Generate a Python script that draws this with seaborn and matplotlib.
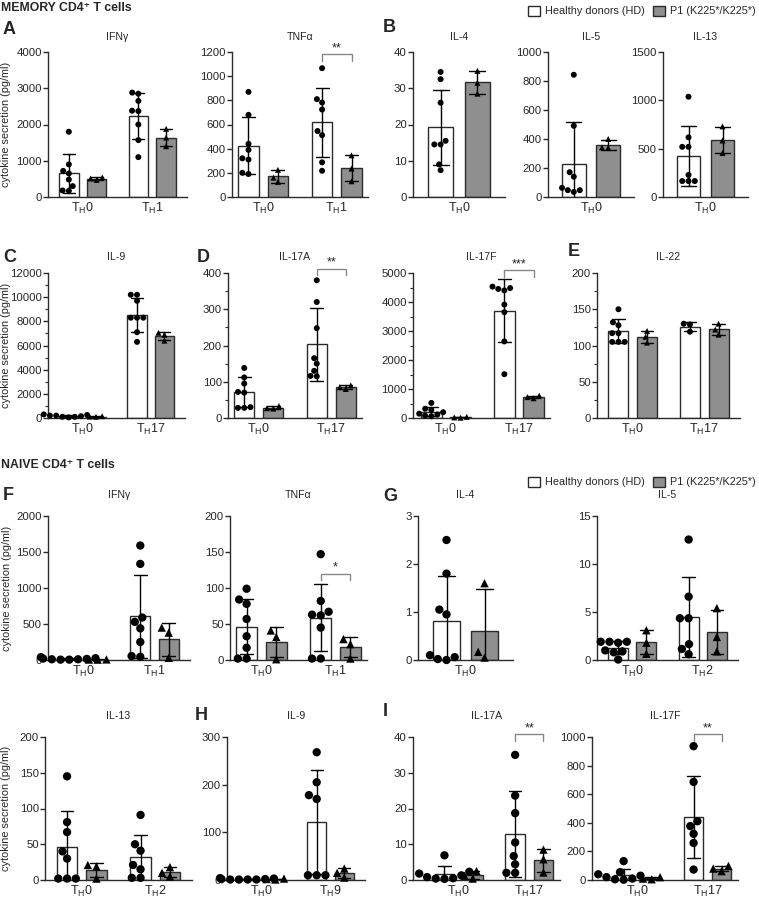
import warnings
import pandas as pd
import seaborn as sns
import matplotlib.pyplot as plt
from matplotlib import font_manager
from matplotlib.ticker import MultipleLocator
from matplotlib.patches import Patch

warnings.filterwarnings('ignore')

# group labels
TH0 = r'T$_\mathregular{H}$0'
TH1 = r'T$_\mathregular{H}$1'
TH2 = r'T$_\mathregular{H}$2'
TH9 = r'T$_\mathregular{H}$9'
TH17 = r'T$_\mathregular{H}$17'

# MEMORY CD4+ T cells: one list per stimulation, healthy donors (hd) and patient (p1)
mem_ifng_hd = [[1800, 900, 720, 650, 480, 300, 180, 170], [2880, 2850, 2650, 2380, 2370, 2000, 1570, 1100]]
mem_ifng_p1 = [[540, 510, 470], [1880, 1640, 1400]]
mem_tnfa_hd = [[870, 680, 440, 390, 320, 310, 200, 190], [1066, 810, 782, 724, 546, 512, 287, 217]]
mem_tnfa_p1 = [[225, 160, 125], [345, 235, 130]]
mem_il4_hd = [[34.5, 32.5, 26, 15.5, 14.5, 14.5, 9, 7.4]]
mem_il4_p1 = [[34.8, 31.5, 28.5]]
mem_il5_hd = [[843, 491, 171, 140, 63, 47, 47, 35]]
mem_il5_p1 = [[400, 340, 342]]
mem_il13_hd = [[1037, 617, 519, 519, 228, 165, 165, 165]]
mem_il13_p1 = [[730, 585, 455]]
mem_il9_hd = [[300, 250, 200, 200, 150, 100, 100, 50], [10200, 10200, 9700, 8300, 8300, 8300, 7100, 6300]]
mem_il9_p1 = [[150, 120, 100], [7050, 6900, 6400]]
mem_il17a_hd = [[138, 112, 95, 72, 70, 30, 28, 28], [380, 320, 248, 165, 150, 130, 115, 116]]
mem_il17a_p1 = [[33, 27, 26], [90, 85, 80]]
mem_il17f_hd = [[520, 320, 280, 200, 150, 120, 80, 60], [4530, 4480, 4450, 4400, 3910, 3650, 2640, 1510]]
mem_il17f_p1 = [[40, 20, 10], [770, 720, 680]]
mem_il22_hd = [[150, 132, 128, 117, 117, 105, 105, 105], [130, 129, 119]]
mem_il22_p1 = [[120, 112, 104], [130, 122, 115]]

# NAIVE CD4+ T cells
nai_ifng_hd = [[40, 25, 20, 15, 10, 10, 5, 5], [1590, 1335, 590, 530, 440, 250, 55, 45]]
nai_ifng_p1 = [[8, 6, 5], [450, 380, 30]]
nai_tnfa_hd = [[99, 84, 78, 57, 33, 17, 2, 2], [147, 82, 67, 63, 62, 45, 2, 2]]
nai_tnfa_p1 = [[41, 32, 1], [29, 22, 2]]
nai_il4_hd = [[2.5, 1.8, 1.05, 0.95, 0.1, 0.06, 0.02, 0.0]]
nai_il4_p1 = [[1.6, 0.17, 0.05]]
nai_il5_hd = [[1.9, 1.9, 1.9, 1.8, 1.0, 0.9, 0.8, 0.05], [12.55, 6.6, 4.35, 4.35, 1.65, 1.15, 0.6]]
nai_il5_p1 = [[3.1, 1.8, 0.65], [5.4, 2.4, 0.9]]
nai_il13_hd = [[145, 81, 67, 40, 30, 2, 2, 2], [91, 50, 41, 21, 15, 3, 3]]
nai_il13_p1 = [[21, 19, 2], [18, 10, 5]]
nai_il9_hd = [[4, 3, 2, 2, 1, 1, 1, 1], [268, 205, 178, 170, 10, 10, 10]]
nai_il9_p1 = [[3, 2, 1], [24, 15, 5]]
nai_il17a_hd = [[6.9, 2.3, 1.8, 1.3, 0.8, 0.5, 0.4, 0.3], [35, 23.6, 18.7, 10.5, 6.7, 4.4, 2, 2]]
nai_il17a_p1 = [[2.5, 1.2, 0.4], [8.5, 5.8, 2.1]]
nai_il17f_hd = [[132, 55, 40, 30, 20, 10, 5, 2], [936, 686, 411, 377, 323, 259, 73]]
nai_il17f_p1 = [[20, 10, 5], [98, 80, 62]]

GREY = '#8f8f8f'
EDGE = '#2b2b2b'
W, H = 759, 900

sns.set_style('ticks')
plt.rcParams['font.family'] = ['Liberation Sans', 'DejaVu Sans']
plt.rcParams['axes.edgecolor'] = EDGE
plt.rcParams['axes.linewidth'] = 1.0

# the legend of the original is set in a condensed face
installed = {f.name for f in font_manager.fontManager.ttflist}
NARROW = 'Liberation Sans Narrow' if 'Liberation Sans Narrow' in installed else 'Liberation Sans'
LEGEND_SIZE = 9.5 if NARROW != 'Liberation Sans' else 7.8


def box(x0, x1, ytop, ybot):
    return [x0 / W, 1 - ybot / H, (x1 - x0) / W, (ybot - ytop) / H]


def draw_panel(fig, rect, title, groups, hd, p1, ymax, ystep, minor=None,
               ylabel=False, dot=4.3, pad=9, sig=None):
    ax = fig.add_axes(rect)
    rows = []
    for g, hv, pv in zip(groups, hd, p1):
        rows += [(g, 'HD', v) for v in hv]
        rows += [(g, 'P1', v) for v in pv]
    df = pd.DataFrame(rows, columns=['stim', 'donor', 'value'])

    sns.barplot(data=df, x='stim', y='value', hue='donor', order=groups,
                hue_order=['HD', 'P1'], palette={'HD': 'white', 'P1': GREY},
                edgecolor=EDGE, linewidth=1, errorbar='sd', capsize=0.35,
                err_kws={'color': 'black', 'linewidth': 1}, gap=0.3,
                legend=False, ax=ax)
    for donor, marker in [('HD', 'o'), ('P1', '^')]:
        sns.swarmplot(data=df[df['donor'] == donor], x='stim', y='value',
                      hue='donor', order=groups, hue_order=['HD', 'P1'],
                      palette={'HD': 'black', 'P1': 'black'}, dodge=True,
                      marker=marker, size=dot, legend=False, ax=ax)
    for c in ax.collections:
        c.set_clip_on(False)

    ax.set_ylim(0, ymax)
    ax.yaxis.set_major_locator(MultipleLocator(ystep))
    if minor:
        ax.yaxis.set_minor_locator(MultipleLocator(minor))
    ax.tick_params(axis='y', labelsize=8.2, length=3.5, width=1, color=EDGE, pad=1)
    ax.tick_params(axis='y', which='minor', length=2, width=0.8, color=EDGE)
    ax.tick_params(axis='x', labelsize=9, length=0, pad=3)
    ax.set_xlabel('')
    ax.set_ylabel('')
    ax.set_title(title, fontsize=7.6, pad=pad)
    sns.despine(ax=ax)

    if ylabel:
        ax.set_ylabel('cytokine secretion (pg/ml)', fontsize=7.8)
        ax.yaxis.set_label_coords((11.5 - rect[0] * W) / (rect[2] * W), 0.5)

    if sig:
        label, y = sig
        bars = sorted(ax.patches, key=lambda p: p.get_x())
        x1 = bars[-2].get_x() + bars[-2].get_width() / 2
        x2 = bars[-1].get_x() + bars[-1].get_width() / 2
        d = ymax * 0.045
        ax.plot([x1, x1, x2, x2], [y - d, y, y, y - d], color='#888888',
                lw=1, clip_on=False)
        ax.text((x1 + x2) / 2, y, label, ha='center', va='bottom', fontsize=9)
    return ax


fig = plt.figure(figsize=(W / 100, H / 100), dpi=100)

# memory, row 1
draw_panel(fig, box(48, 187, 52, 197), 'IFNγ', [TH0, TH1], mem_ifng_hd, mem_ifng_p1, 4000, 1000, ylabel=True)
draw_panel(fig, box(232, 368, 52, 197), 'TNFα', [TH0, TH1], mem_tnfa_hd, mem_tnfa_p1, 1200, 200, sig=('**', 1180))
draw_panel(fig, box(413, 505, 52, 197), 'IL-4', [TH0], mem_il4_hd, mem_il4_p1, 40, 10)
draw_panel(fig, box(548, 634, 52, 197), 'IL-5', [TH0], mem_il5_hd, mem_il5_p1, 1000, 200)
draw_panel(fig, box(663, 748, 52, 197), 'IL-13', [TH0], mem_il13_hd, mem_il13_p1, 1500, 500)

# memory, row 2
draw_panel(fig, box(48, 185, 273, 418), 'IL-9', [TH0, TH17], mem_il9_hd, mem_il9_p1, 12000, 2000, minor=1000, ylabel=True)
draw_panel(fig, box(228, 362, 273, 418), 'IL-17A', [TH0, TH17], mem_il17a_hd, mem_il17a_p1, 400, 100, minor=50, sig=('**', 412))
draw_panel(fig, box(413, 550, 273, 418), 'IL-17F', [TH0, TH17], mem_il17f_hd, mem_il17f_p1, 5000, 1000, minor=500, sig=('***', 5090))
draw_panel(fig, box(597, 740, 273, 418), 'IL-22', [TH0, TH17], mem_il22_hd, mem_il22_p1, 200, 50, minor=25)

# naive, row 3
draw_panel(fig, box(48, 190, 516, 660), 'IFNγ', [TH0, TH1], nai_ifng_hd, nai_ifng_p1, 2000, 500, ylabel=True, dot=6, pad=13)
draw_panel(fig, box(230, 367, 516, 660), 'TNFα', [TH0, TH1], nai_tnfa_hd, nai_tnfa_p1, 200, 50, dot=6, pad=13, sig=('*', 120))
draw_panel(fig, box(418, 513, 516, 660), 'IL-4', [TH0], nai_il4_hd, nai_il4_p1, 3, 1, dot=6, pad=13)
draw_panel(fig, box(597, 738, 516, 660), 'IL-5', [TH0, TH2], nai_il5_hd, nai_il5_p1, 15, 5, dot=6, pad=13)

# naive, row 4
draw_panel(fig, box(45, 192, 737, 880), 'IL-13', [TH0, TH2], nai_il13_hd, nai_il13_p1, 200, 50, ylabel=True, dot=6, pad=13)
draw_panel(fig, box(227, 365, 737, 880), 'IL-9', [TH0, TH9], nai_il9_hd, nai_il9_p1, 300, 100, dot=6, pad=13)
draw_panel(fig, box(413, 560, 737, 880), 'IL-17A', [TH0, TH17], nai_il17a_hd, nai_il17a_p1, 40, 10, dot=6, pad=13, sig=('**', 40.8))
draw_panel(fig, box(592, 738, 737, 880), 'IL-17F', [TH0, TH17], nai_il17f_hd, nai_il17f_p1, 1000, 200, dot=6, pad=13, sig=('**', 1020))

# section headings, panel letters, legends
fig.text(1 / W, 1 - 8 / H, 'MEMORY CD4⁺ T cells', fontsize=8.8, weight='bold', va='center')
fig.text(1 / W, 1 - 465 / H, 'NAIVE CD4⁺ T cells', fontsize=8.8, weight='bold', va='center')
for letter, px, py in [('A', 3, 29), ('B', 383, 28), ('C', 3, 257), ('D', 197, 257),
                       ('E', 568, 252), ('F', 3, 495), ('G', 383, 497), ('H', 195, 715),
                       ('I', 383, 712)]:
    fig.text(px / W, 1 - py / H, letter, fontsize=13, weight='bold', va='center')

handles = [Patch(facecolor='white', edgecolor=EDGE, label='Healthy donors (HD)'),
           Patch(facecolor=GREY, edgecolor=EDGE, label='P1 (K225*/K225*)')]
for ly in [11, 482]:
    fig.legend(handles=handles, loc='center right', bbox_to_anchor=(1.0, 1 - ly / H),
               ncol=2, frameon=False, handlelength=1.1, handleheight=1.1,
               columnspacing=0.7, handletextpad=0.5, borderaxespad=0.2, borderpad=0.1,
               prop={'family': [NARROW, 'DejaVu Sans'], 'size': LEGEND_SIZE})

fig.savefig('out.png', dpi=100)
